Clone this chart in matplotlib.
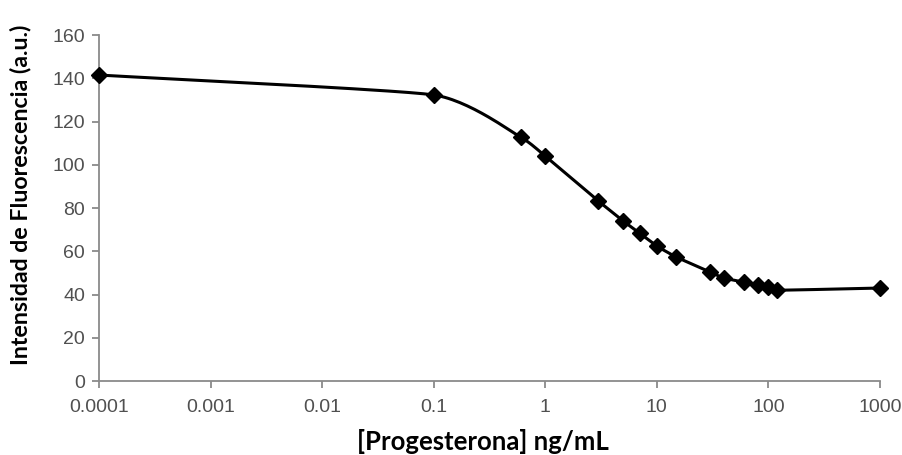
import numpy as np
import matplotlib
matplotlib.use("Agg")
import matplotlib.pyplot as plt

# datos
conc = [0.0001, 0.1, 0.6, 1, 3, 5, 7, 10, 15, 30, 40, 60, 80, 100, 120, 1000]
fluor = [141.5, 132.3, 112.8, 104.0, 83.2, 74.0, 68.4, 62.4, 57.3, 50.4, 47.6, 45.8, 44.4, 43.5, 42.0, 43.0]
xticks = [0.0001, 0.001, 0.01, 0.1, 1, 10, 100, 1000]
xticklabels = ["0.0001", "0.001", "0.01", "0.1", "1", "10", "100", "1000"]


def smooth(xs, ys, n=30):
    # curva suavizada (Catmull-Rom) en espacio log-x, como la linea suavizada de Excel
    lx = np.log10(xs)
    y = np.asarray(ys, float)
    px = np.concatenate([[2 * lx[0] - lx[1]], lx, [2 * lx[-1] - lx[-2]]])
    py = np.concatenate([[2 * y[0] - y[1]], y, [2 * y[-1] - y[-2]]])
    ox, oy = [], []
    t = np.linspace(0, 1, n)
    for i in range(1, len(px) - 2):
        for p, o in ((px, ox), (py, oy)):
            p0, p1, p2, p3 = p[i - 1], p[i], p[i + 1], p[i + 2]
            m1 = (p2 - p0) / 2 * 0.5
            m2 = (p3 - p1) / 2 * 0.5
            h00 = 2 * t**3 - 3 * t**2 + 1
            h10 = t**3 - 2 * t**2 + t
            h01 = -2 * t**3 + 3 * t**2
            h11 = t**3 - t**2
            o.extend(h00 * p1 + h10 * m1 + h01 * p2 + h11 * m2)
    return 10 ** np.array(ox), np.array(oy)


fig = plt.figure(figsize=(9.03, 4.55), dpi=100)
ax = fig.add_axes([0.1096, 0.1626, 0.8649, 0.7604])

sx, sy = smooth(conc, fluor)
ax.plot(sx, sy, color="black", lw=2.2, solid_capstyle="round", clip_on=False)
ax.plot(conc, fluor, ls="none", marker="D", ms=8, color="black", clip_on=False,
        zorder=5)

ax.set_xscale("log")
ax.set_xlim(0.0001, 1000)
ax.set_ylim(0, 160)
ax.set_xticks(xticks)
ax.set_xticklabels(xticklabels, fontsize=14, family="Liberation Sans")
ax.xaxis.set_minor_locator(matplotlib.ticker.NullLocator())
ax.set_yticks(range(0, 161, 20))
ax.set_yticklabels([str(v) for v in range(0, 161, 20)], fontsize=14,
                   family="Liberation Sans")

for s in ("top", "right"):
    ax.spines[s].set_visible(False)
for s in ("left", "bottom"):
    ax.spines[s].set_color("#8a8a8a")
    ax.spines[s].set_linewidth(1.3)
ax.tick_params(colors="#8a8a8a", width=1.3, length=5, labelcolor="#505050")
ax.tick_params(axis="x", pad=8)
ax.tick_params(axis="y", pad=5)

ax.set_xlabel("[Progesterona] ng/mL", fontsize=18.5, fontweight="bold",
              family="Lato", labelpad=9)
ax.set_ylabel("Intensidad de Fluorescencia (a.u.)", fontsize=16.7, fontweight="bold",
              family="Lato")
ax.yaxis.set_label_coords(-0.087, 0.538)
ax.xaxis.set_label_coords(0.492, -0.14)

plt.savefig("out.png", dpi=100)
